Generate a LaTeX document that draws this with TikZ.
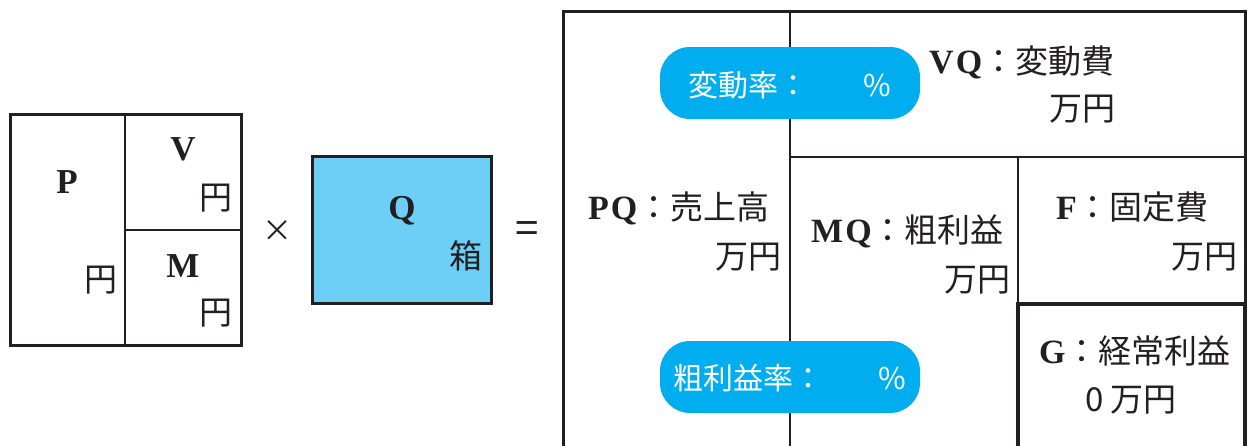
\documentclass[tikz,border=0pt]{standalone}
\usepackage{fontspec}
\newfontfamily\cjk{Noto Sans CJK JP}
\newfontfamily\lat[LetterSpace=6]{Liberation Serif}
\definecolor{ink}{HTML}{231F20}
\definecolor{qblue}{HTML}{6DCFF6}
\definecolor{pill}{HTML}{00AEEF}
\newcommand{\LT}[1]{{\lat\bfseries\fontsize{34}{36}\selectfont #1}}
\tikzset{
  thin line/.style={draw=ink, line width=2pt},
  frame/.style={draw=ink, line width=3pt},
  heavy/.style={draw=ink, line width=4.5pt},
  txt/.style={inner sep=0pt, anchor=base, text=ink, font=\cjk\fontsize{33}{36}\selectfont},
  lt/.style={inner sep=0pt, anchor=base, text=ink, font=\lat\bfseries\fontsize{35}{37}\selectfont},
  pillbox/.style={fill=pill, rounded corners=30pt, draw=none},
  pilltxt/.style={inner sep=0pt, anchor=base, text=white, font=\cjk\fontsize{30}{33}\selectfont},
}
\begin{document}
\begin{tikzpicture}[x=1pt,y=-1pt]
\useasboundingbox (0,0) rectangle (1248,445);
% left box
\coordinate (L1) at (10,114); \coordinate (L2) at (241,345);
\coordinate (Lm) at (125,114); \coordinate (Lmb) at (125,345);
\coordinate (Lh) at (125,230); \coordinate (Lhr) at (241,230);
\draw[thin line] (Lm) -- (Lmb);
\draw[thin line] (Lh) -- (Lhr);
\draw[frame] (L1) rectangle (L2);
\node[lt] (P) at (67,193) {P};
\node[txt] (Py) at (101,291) {円};
\node[lt] (V) at (183,160) {V};
\node[txt] (Vy) at (216,209) {円};
\node[lt] (M) at (183,277) {M};
\node[txt] (My) at (216,324) {円};
\node[txt, font=\cjk\fontsize{30}{32}\selectfont] (times) at (277,241) {×};
% Q box
\coordinate (Q1) at (312,156); \coordinate (Q2) at (491,303);
\draw[frame, fill=qblue] (Q1) rectangle (Q2);
\node[lt] (Q) at (402,219) {Q};
\node[txt] (Qy) at (466,268) {箱};
\node[txt, font=\cjk\fontsize{42}{44}\selectfont] (eq) at (527,243) {=};
% right structure
\coordinate (R0) at (563,447); \coordinate (R1) at (563,11);
\coordinate (R2) at (1245,11); \coordinate (R3) at (1245,447);
\coordinate (A1) at (790,11); \coordinate (A2) at (790,447);
\coordinate (B1) at (790,157); \coordinate (B2) at (1245,157);
\coordinate (C1) at (1018,157); \coordinate (C2) at (1018,447);
\coordinate (G1) at (1018,447); \coordinate (G2) at (1018,304);
\coordinate (G3) at (1245,304); \coordinate (G4) at (1245,447);
\draw[thin line] (A1) -- (A2);
\draw[thin line] (B1) -- (B2);
\draw[thin line] (C1) -- (C2);
\draw[frame] (R0) -- (R1) -- (R2) -- (R3);
\draw[heavy] (G1) -- (G2) -- (G3) -- (G4);
% pills
\node[pillbox, minimum width=260pt, minimum height=72pt] (p1) at (790,83) {};
\node[pillbox, minimum width=260pt, minimum height=72pt] (p2) at (790,377) {};
\node[pilltxt, anchor=base west] (p1t) at (688,96) {変動率：};
\node[pilltxt] (p1p) at (877,96) {\%};
\node[pilltxt, anchor=base west] (p2t) at (673,389) {粗利益率：};
\node[pilltxt] (p2p) at (892,389) {\%};
% labels
\node[txt, anchor=base west] (vq) at (929,73) {\LT{VQ}：変動費};
\node[txt] (vqy) at (1082,120) {万円};
\node[txt, anchor=base west] (pq) at (588,219) {\LT{PQ}：売上高};
\node[txt] (pqy) at (748,268) {万円};
\node[txt, anchor=base west] (mq) at (811,242) {\LT{MQ}：粗利益};
\node[txt] (mqy) at (977,291) {万円};
\node[txt, anchor=base west] (f) at (1056,219) {\LT{F}：固定費};
\node[txt] (fy) at (1204,268) {万円};
\node[txt, anchor=base west] (g) at (1039,363) {\LT{G}：経常利益};
\node[txt] (gy) at (1131,411) {0 万円};
\end{tikzpicture}
\end{document}
